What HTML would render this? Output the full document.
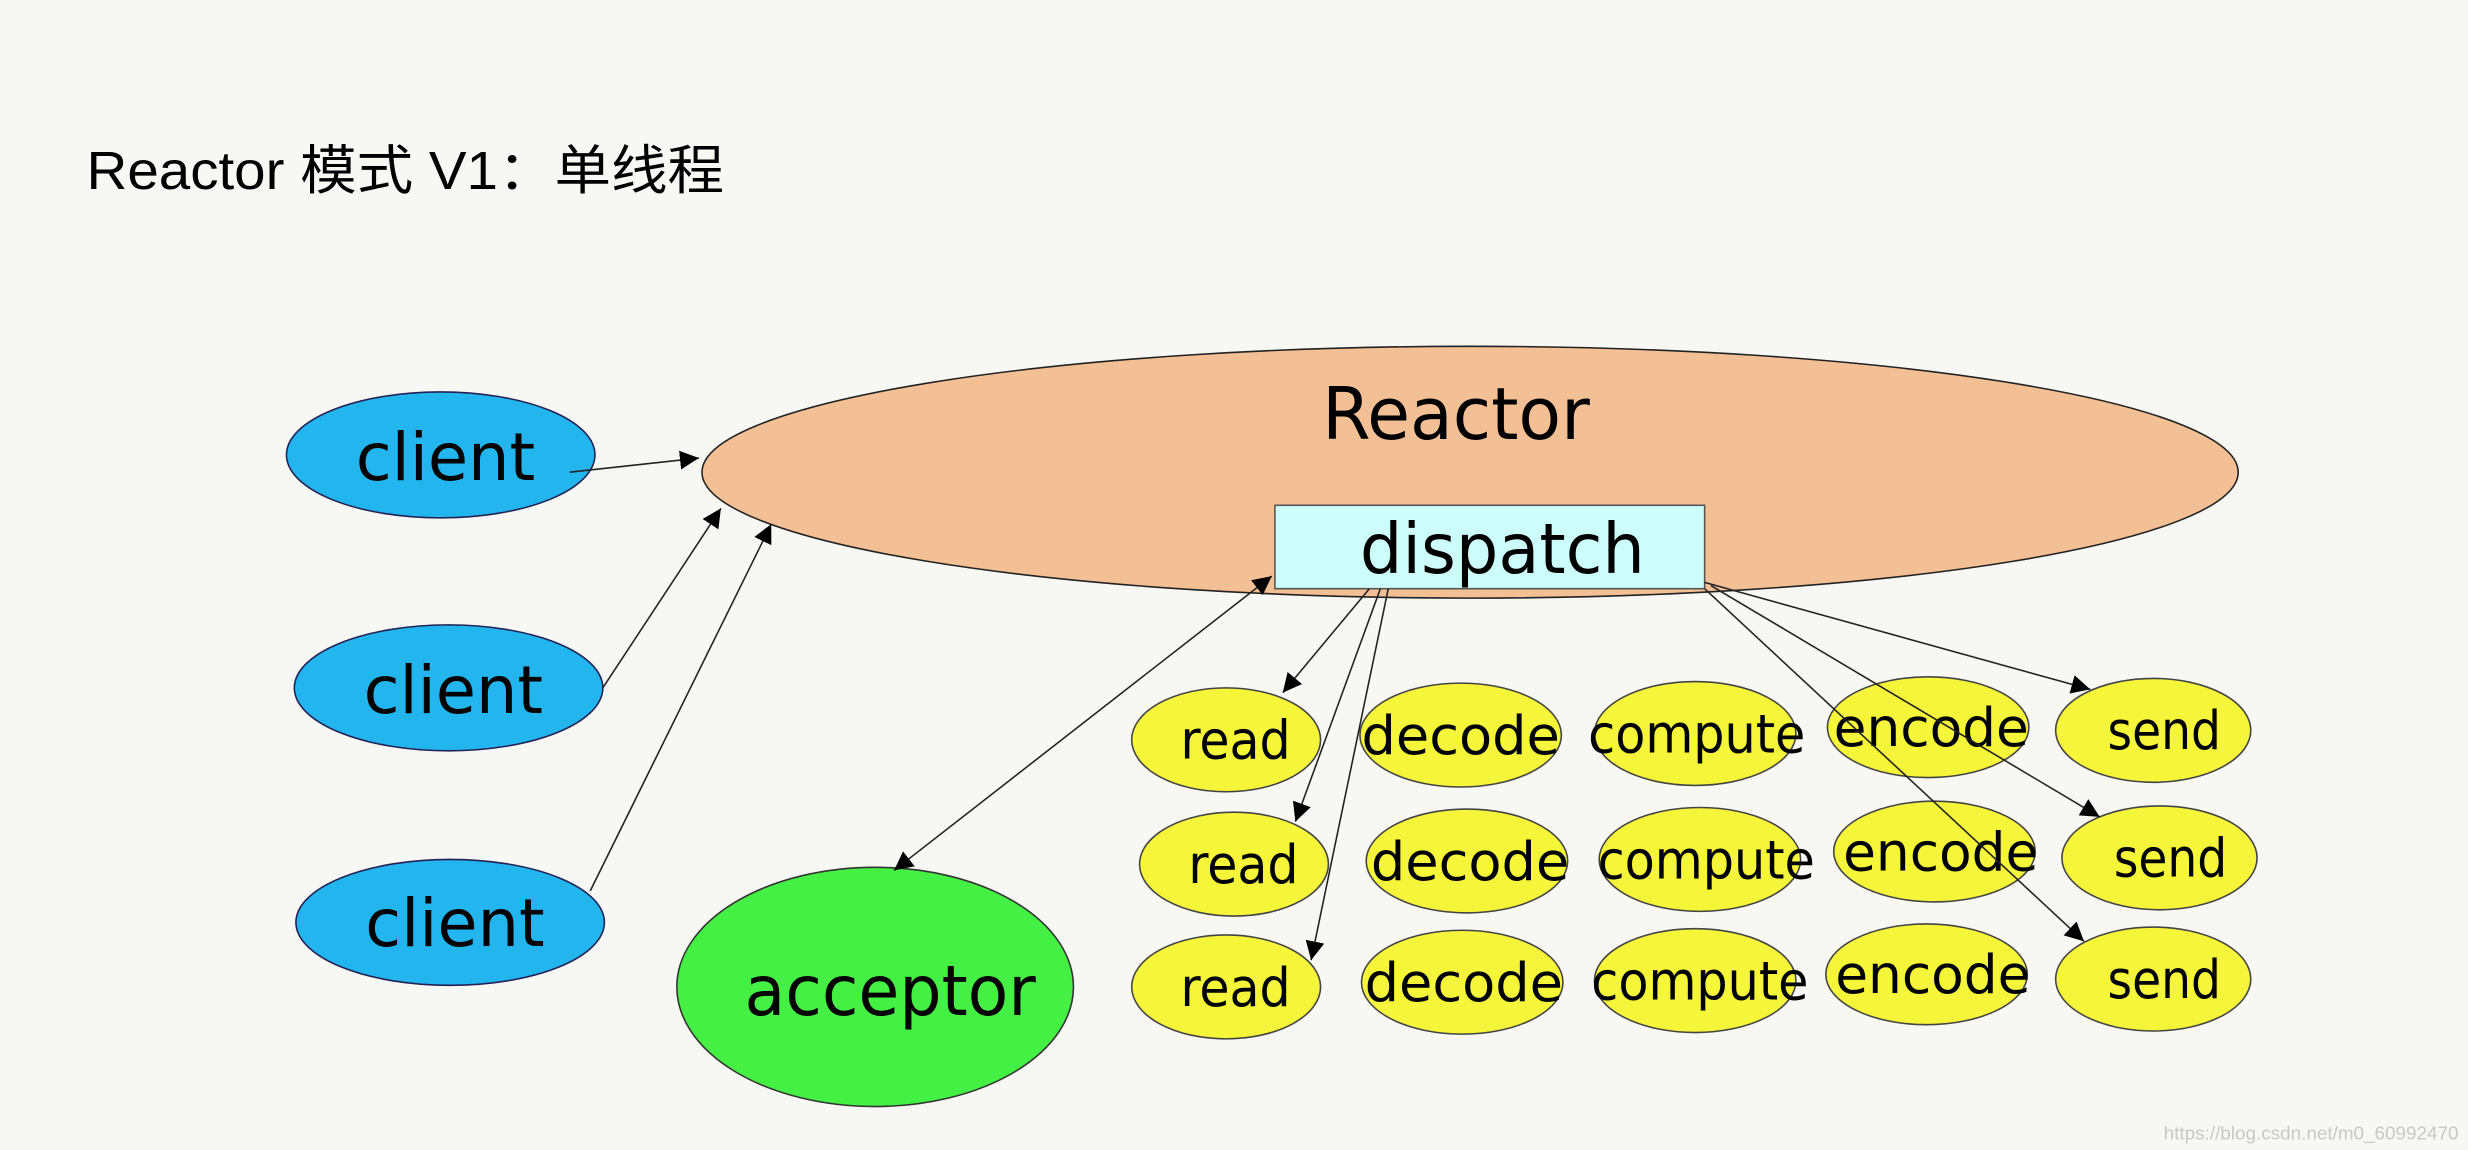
<!DOCTYPE html>
<html><head><meta charset="utf-8"><style>
html,body{margin:0;padding:0;background:#f7f7f4;}
svg{display:block;}
text{font-family:"DejaVu Sans Condensed","Liberation Sans","Noto Sans CJK SC",sans-serif;fill:#000;}
</style></head><body>
<svg width="2468" height="1150" viewBox="0 0 1568 730.6" xmlns="http://www.w3.org/2000/svg">
<defs>
<marker id="a" viewBox="0 0 10 10" refX="10" refY="5" markerWidth="12" markerHeight="12" markerUnits="userSpaceOnUse" orient="auto-start-reverse">
<path d="M0,0 L10,5 L0,10 z" fill="#000"/></marker>
</defs>
<rect width="1568" height="730.6" fill="#f7f7f4"/>
<text x="55" y="120" font-size="34" textLength="405" lengthAdjust="spacingAndGlyphs" style="font-family:'Liberation Sans','Noto Sans CJK SC',sans-serif">Reactor 模式 V1：单线程</text>

<ellipse cx="934" cy="300" rx="488" ry="80" fill="#f3bf94" stroke="#222" stroke-width="1"/>
<text x="840" y="279" font-size="46" textLength="170" lengthAdjust="spacingAndGlyphs">Reactor</text>
<rect x="810" y="321" width="273" height="53" fill="#ccfdfb" stroke="#555" stroke-width="1"/>
<text x="864" y="364" font-size="44" textLength="181" lengthAdjust="spacingAndGlyphs">dispatch</text>

<g fill="#22b5ee" stroke="#225" stroke-width="1">
<ellipse cx="280" cy="289" rx="98" ry="40"/>
<ellipse cx="285" cy="437" rx="98" ry="40"/>
<ellipse cx="286" cy="586" rx="98" ry="40"/>
</g>
<g font-size="42">
<text x="226" y="305" textLength="114" lengthAdjust="spacingAndGlyphs">client</text>
<text x="231" y="453" textLength="114" lengthAdjust="spacingAndGlyphs">client</text>
<text x="232" y="601" textLength="114" lengthAdjust="spacingAndGlyphs">client</text>
</g>
<ellipse cx="556" cy="627" rx="126" ry="76" fill="#44f044" stroke="#333" stroke-width="1"/>
<text x="473" y="645" font-size="44" textLength="185" lengthAdjust="spacingAndGlyphs">acceptor</text>

<g fill="#f5f53a" stroke="#444" stroke-width="1">
<ellipse cx="779" cy="470" rx="60" ry="33"/><ellipse cx="928" cy="467" rx="64" ry="33"/><ellipse cx="1077" cy="466" rx="64" ry="33"/><ellipse cx="1225" cy="462" rx="64" ry="32"/><ellipse cx="1368" cy="464" rx="62" ry="33"/>
<ellipse cx="784" cy="549" rx="60" ry="33"/><ellipse cx="932" cy="547" rx="64" ry="33"/><ellipse cx="1080" cy="546" rx="64" ry="33"/><ellipse cx="1229" cy="541" rx="64" ry="32"/><ellipse cx="1372" cy="545" rx="62" ry="33"/>
<ellipse cx="779" cy="627" rx="60" ry="33"/><ellipse cx="929" cy="624" rx="64" ry="33"/><ellipse cx="1077" cy="623" rx="64" ry="33"/><ellipse cx="1224" cy="619" rx="64" ry="32"/><ellipse cx="1368" cy="622" rx="62" ry="33"/>
</g>
<g font-size="34" text-anchor="middle" lengthAdjust="spacingAndGlyphs">
<text x="785" y="482" textLength="70" lengthAdjust="spacingAndGlyphs">read</text><text x="928" y="479" textLength="126" lengthAdjust="spacingAndGlyphs">decode</text><text x="1078" y="478" textLength="138" lengthAdjust="spacingAndGlyphs">compute</text><text x="1227" y="474" textLength="124" lengthAdjust="spacingAndGlyphs">encode</text><text x="1375" y="476" textLength="72" lengthAdjust="spacingAndGlyphs">send</text>
<text x="790" y="561" textLength="70" lengthAdjust="spacingAndGlyphs">read</text><text x="934" y="559" textLength="126" lengthAdjust="spacingAndGlyphs">decode</text><text x="1084" y="558" textLength="138" lengthAdjust="spacingAndGlyphs">compute</text><text x="1233" y="553" textLength="124" lengthAdjust="spacingAndGlyphs">encode</text><text x="1379" y="557" textLength="72" lengthAdjust="spacingAndGlyphs">send</text>
<text x="785" y="639" textLength="70" lengthAdjust="spacingAndGlyphs">read</text><text x="930" y="636" textLength="126" lengthAdjust="spacingAndGlyphs">decode</text><text x="1080" y="635" textLength="138" lengthAdjust="spacingAndGlyphs">compute</text><text x="1228" y="631" textLength="124" lengthAdjust="spacingAndGlyphs">encode</text><text x="1375" y="634" textLength="72" lengthAdjust="spacingAndGlyphs">send</text>
</g>

<g stroke="#222" stroke-width="1" fill="none">
<line x1="362" y1="300" x2="444" y2="291" marker-end="url(#a)"/>
<line x1="383" y1="437" x2="458" y2="323" marker-end="url(#a)"/>
<line x1="375" y1="566" x2="490" y2="333" marker-end="url(#a)"/>
<line x1="568" y1="553" x2="808" y2="366" marker-start="url(#a)" marker-end="url(#a)"/>
<line x1="870" y1="374" x2="815" y2="440" marker-end="url(#a)"/>
<line x1="877" y1="374" x2="823" y2="522" marker-end="url(#a)"/>
<line x1="882" y1="374" x2="833" y2="610" marker-end="url(#a)"/>
<line x1="1083" y1="370" x2="1328" y2="438" marker-end="url(#a)"/>
<line x1="1087" y1="372" x2="1334" y2="519" marker-end="url(#a)"/>
<line x1="1083" y1="374" x2="1324" y2="598" marker-end="url(#a)"/>
</g>
<text x="1562" y="724" font-size="12" text-anchor="end" style="fill:#c8c8c8;font-family:'Liberation Sans',sans-serif">https://blog.csdn.net/m0_60992470</text>
</svg>
</body></html>
